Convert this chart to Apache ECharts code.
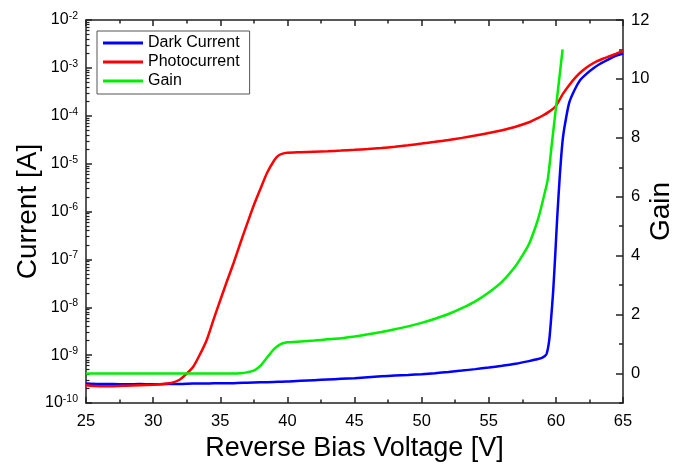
<!DOCTYPE html>
<html>
<head>
<meta charset="utf-8">
<script src="https://cdn.jsdelivr.net/npm/echarts@6/dist/echarts.min.js"></script>
<style>
html,body{margin:0;padding:0;background:#fff;}
#chart{width:675px;height:464px;}
</style>
</head>
<body>
<div id="chart"></div>
<script>
// ---- data ----
var darkV = [25,26,27,28,29,30,31,32,33,34,35,36,37,38,39,40,41,42,43,44,45,46,47,48,49,50,51,52,53,54,55,56,57,58,58.5,59,59.3,59.5,59.65,59.8,59.95,60.1,60.3,60.5,60.7,61,61.4,61.8,62.3,62.8,63.3,64,64.5,65];
var darkI = [2.55e-10,2.5e-10,2.5e-10,2.45e-10,2.5e-10,2.45e-10,2.5e-10,2.5e-10,2.55e-10,2.55e-10,2.6e-10,2.6e-10,2.65e-10,2.7e-10,2.75e-10,2.8e-10,2.9e-10,3.0e-10,3.1e-10,3.2e-10,3.3e-10,3.45e-10,3.6e-10,3.75e-10,3.85e-10,4.0e-10,4.2e-10,4.45e-10,4.75e-10,5.1e-10,5.5e-10,6.0e-10,6.6e-10,7.5e-10,8.1e-10,8.9e-10,1.05e-9,2.0e-9,6e-9,2.2e-8,1.2e-7,7.5e-7,6.0e-6,3.0e-5,7.2e-5,1.9e-4,3.5e-4,5.5e-4,7.6e-4,9.8e-4,1.22e-3,1.55e-3,1.8e-3,2.0e-3];

var photoV = [25,26,27,28,29,30,30.5,31,31.5,32,32.5,33,33.5,34,34.5,35,35.5,36,36.5,37,37.5,38,38.5,39,39.3,39.6,40,41,42,43,44,45,46,47,48,49,50,51,52,53,54,55,56,57,58,58.5,59,59.5,60,60.5,61,61.5,62,62.5,63,63.5,64,64.5,65];
var photoI = [2.35e-10,2.25e-10,2.25e-10,2.3e-10,2.35e-10,2.4e-10,2.45e-10,2.55e-10,2.7e-10,3.1e-10,4.1e-10,5.8e-10,1.05e-9,2.1e-9,5.5e-9,1.4e-8,3.5e-8,8.5e-8,2.2e-7,5.5e-7,1.35e-6,3.0e-6,6.5e-6,1.15e-5,1.45e-5,1.6e-5,1.68e-5,1.73e-5,1.78e-5,1.82e-5,1.87e-5,1.94e-5,2.02e-5,2.12e-5,2.25e-5,2.42e-5,2.62e-5,2.85e-5,3.12e-5,3.45e-5,3.85e-5,4.35e-5,5.0e-5,5.9e-5,7.3e-5,8.5e-5,1.0e-4,1.22e-4,1.6e-4,2.8e-4,4.4e-4,6.5e-4,8.8e-4,1.12e-3,1.35e-3,1.55e-3,1.75e-3,1.98e-3,2.25e-3];

var gainV = [25,27,29,31,33,35,36,36.5,37,37.5,38,38.5,39,39.5,40,41,42,43,44,45,46,47,48,49,50,51,52,53,54,55,56,57,57.5,58,58.5,58.8,59.1,59.4,59.7,60.0,60.25,60.5];
var gainG = [0,0,0,0,0,0,0,0.01,0.04,0.1,0.27,0.55,0.83,1.0,1.06,1.09,1.12,1.16,1.2,1.26,1.33,1.41,1.5,1.6,1.72,1.86,2.02,2.22,2.45,2.75,3.12,3.65,4.0,4.4,5.0,5.45,6.0,6.6,7.8,9.0,10.0,11.0];

var gainTickLabels = [0,2,4,6,8,10,12];

function pairs(xs, ys){ return xs.map(function(x,i){ return [x, ys[i]]; }); }

var FONT = 'Liberation Sans, Arial, sans-serif';
var AX = '#222';
var TICK = {color: AX, width: 1.5};

var chart = echarts.init(document.getElementById('chart'));
chart.setOption({
  animation: false,
  backgroundColor: '#fff',
  textStyle: {fontFamily: FONT, color: '#000'},
  grid: {left: 86, right: 52, top: 20, bottom: 61, containLabel: false, outerBoundsMode: 'none'},
  legend: {
    orient: 'vertical', left: 97, top: 31,
    padding: [4, 10, 5, 6], itemGap: 3,
    itemWidth: 40, itemHeight: 3, icon: 'rect',
    borderColor: '#555', borderWidth: 1, backgroundColor: '#fff',
    textStyle: {fontFamily: FONT, fontSize: 16, color: '#000', lineHeight: 16},
    data: ['Dark Current','Photocurrent','Gain']
  },
  xAxis: [{
    type: 'value', min: 25, max: 65, interval: 5,
    name: 'Reverse Bias Voltage [V]', nameLocation: 'middle', nameGap: 30,
    nameTextStyle: {fontFamily: FONT, fontSize: 27, color: '#000'},
    axisLine: {show: true, onZero: false, lineStyle: {color: AX, width: 1.5}},
    axisTick: {show: true, inside: true, length: 6, lineStyle: TICK},
    minorTick: {show: true, splitNumber: 2, length: 3.5, lineStyle: TICK},
    axisLabel: {fontFamily: FONT, fontSize: 16.5, color: '#000', margin: 10},
    splitLine: {show: false}
  },{
    type: 'value', min: 25, max: 65, interval: 5, position: 'top',
    axisLine: {show: true, onZero: false, lineStyle: {color: AX, width: 1.5}},
    axisTick: {show: true, inside: true, length: 6, lineStyle: TICK},
    minorTick: {show: true, splitNumber: 2, length: 3.5, lineStyle: TICK},
    axisLabel: {show: false},
    splitLine: {show: false}
  }],
  yAxis: [{
    type: 'log', logBase: 10, min: 1e-10, max: 1e-2,
    name: 'Current [A]', nameLocation: 'middle', nameGap: 44, nameMoveOverlap: false,
    nameTextStyle: {fontFamily: FONT, fontSize: 28, color: '#000'},
    axisLine: {show: true, onZero: false, lineStyle: {color: AX, width: 1.5}},
    axisTick: {show: true, inside: true, length: 6, lineStyle: TICK},
    minorTick: {show: true, splitNumber: 9, length: 3.5, lineStyle: {color: AX, width: 1.2}},
    axisLabel: {
      margin: 8,
      formatter: function(v){ var e = Math.round(Math.log10(v)); return '{b|10}{s|' + e + '}'; },
      rich: {
        b: {fontFamily: FONT, fontSize: 16, color: '#000'},
        s: {fontFamily: FONT, fontSize: 10.5, color: '#000', padding: [0,0,8,0]}
      }
    },
    splitLine: {show: false}
  },{
    type: 'value', min: -1, max: 12, interval: 1, position: 'right',
    name: 'Gain', nameLocation: 'middle', nameGap: 24, nameMoveOverlap: false,
    nameTextStyle: {fontFamily: FONT, fontSize: 28, color: '#000'},
    axisLine: {show: true, onZero: false, lineStyle: {color: AX, width: 1.5}},
    axisTick: {show: true, inside: true, length: 4, lineStyle: TICK},
    axisLabel: {fontFamily: FONT, fontSize: 16.5, color: '#000', margin: 8, customValues: gainTickLabels},
    splitLine: {show: false}
  },{
    type: 'value', min: -1, max: 12, interval: 1, position: 'right',
    axisLine: {show: false},
    axisTick: {show: true, inside: true, length: 7, customValues: gainTickLabels, lineStyle: TICK},
    axisLabel: {show: false},
    splitLine: {show: false}
  }],
  series: [{
    name: 'Dark Current', type: 'line', xAxisIndex: 0, yAxisIndex: 0,
    data: pairs(darkV, darkI), symbol: 'none', smooth: 0.25,
    lineStyle: {color: '#0000ff', width: 2.5}, itemStyle: {color: '#0000ff'}
  },{
    name: 'Photocurrent', type: 'line', xAxisIndex: 0, yAxisIndex: 0,
    data: pairs(photoV, photoI), symbol: 'none', smooth: 0.25,
    lineStyle: {color: '#ff0000', width: 2.5}, itemStyle: {color: '#ff0000'}
  },{
    name: 'Gain', type: 'line', xAxisIndex: 0, yAxisIndex: 1,
    data: pairs(gainV, gainG), symbol: 'none', smooth: 0.25,
    lineStyle: {color: '#00ee00', width: 2.5}, itemStyle: {color: '#00ee00'}
  }]
});
</script>
</body>
</html>
